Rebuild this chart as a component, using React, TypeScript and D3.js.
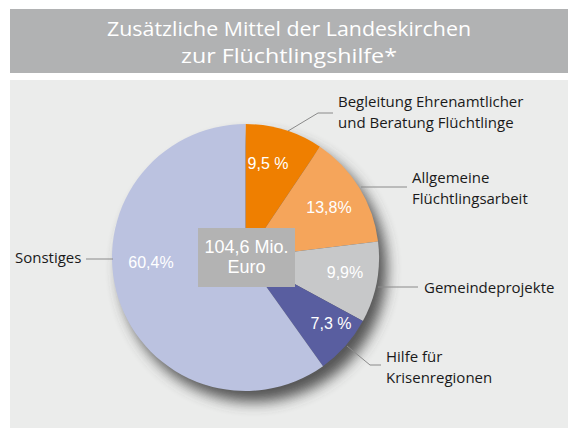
import React from "react";
import * as d3 from "d3";

const categories = [
  "Begleitung Ehrenamtlicher und Beratung Flüchtlinge",
  "Allgemeine Flüchtlingsarbeit",
  "Gemeindeprojekte",
  "Hilfe für Krisenregionen",
  "Sonstiges",
];
const values = [9.5, 13.8, 9.9, 7.3, 60.4];
const valueLabels = ["9,5 %", "13,8%", "9,9%", "7,3 %", "60,4%"];
const labelLines = [
  ["Begleitung Ehrenamtlicher", "und Beratung Flüchtlinge"],
  ["Allgemeine", "Flüchtlingsarbeit"],
  ["Gemeindeprojekte"],
  ["Hilfe für", "Krisenregionen"],
  ["Sonstiges"],
];
const colors = ["#EF7F00", "#F5A55B", "#C7C8C9", "#595EA0", "#BBC2E0"];
const titleLines = ["Zusätzliche Mittel der Landeskirchen", "zur Flüchtlingshilfe*"];
const totalLines = ["104,6 Mio.", "Euro"];

const W = 568, H = 428;
const cx = 245.5, cy = 257.5, R = 133.5;

const labelLayout = [
  { x: 338, y: 107, leader: [[288, 131], [318, 113], [333, 113]] },
  { x: 412, y: 183, leader: [[361, 187], [407, 187]] },
  { x: 424, y: 293, leader: [[378, 287], [418, 287]] },
  { x: 386, y: 362, leader: [[347, 346], [370, 365], [381, 365]] },
  { x: 15, y: 263, leader: [[86, 259], [113, 259]] },
];
const pctPos = [
  [268, 163], [329, 207], [345, 272], [331, 323], [151, 262],
];

export default function App() {
  const pie = d3.pie<number>().sort(null).value((d) => d)(values);
  const arc = d3.arc<d3.PieArcDatum<number>>().innerRadius(0).outerRadius(R);
  const font = "'Open Sans', sans-serif";
  return (
    <svg width={W} height={H} style={{ position: "absolute", left: 0, top: 0 }}>
      <defs>
        <filter id="sh" x="-30%" y="-30%" width="160%" height="160%">
          <feGaussianBlur stdDeviation="7" />
        </filter>
      </defs>
      <rect x={0} y={0} width={W} height={H} fill="#fff" />
      <rect x={10} y={9} width={558} height={64} fill="#B1B2B3" />
      <rect x={10} y={80} width={558} height={348} fill="#EBECEB" />
      {titleLines.map((t, i) => (
        <text key={i} x={289} y={36 + i * 27} textAnchor="middle" fill="#fff"
          fontFamily={font} fontSize={20}
          textLength={i === 0 ? 364 : 216} lengthAdjust="spacingAndGlyphs">{t}</text>
      ))}
      <circle cx={cx + 8} cy={cy + 11} r={R} fill="#444" filter="url(#sh)" opacity={0.9} />
      <g transform={`translate(${cx},${cy})`}>
        {pie.map((p, i) => (
          <path key={categories[i]} d={arc(p) || ""} fill={colors[i]} />
        ))}
      </g>
      {labelLayout.map((l, i) => (
        <g key={i}>
          <polyline points={l.leader.map((p) => p.join(",")).join(" ")} fill="none" stroke="#8a8a8a" strokeWidth={1} />
          {labelLines[i].map((t, j) => (
            <text key={j} x={l.x} y={l.y + j * 21} fill="#1a1a1a" fontFamily={font} fontSize={15}>{t}</text>
          ))}
        </g>
      ))}
      {pctPos.map((p, i) => (
        <text key={i} x={p[0]} y={p[1] + 6} textAnchor="middle" fill="#fff"
          fontFamily="'Liberation Sans', Arial, sans-serif" fontSize={16}>{valueLabels[i]}</text>
      ))}
      <rect x={198} y={228} width={97} height={59} fill="#B3B3B3" />
      {totalLines.map((t, i) => (
        <text key={i} x={246.5} y={253 + i * 20} textAnchor="middle" fill="#fff"
          fontFamily="'Liberation Sans', Arial, sans-serif" fontSize={18}>{t}</text>
      ))}
    </svg>
  );
}
